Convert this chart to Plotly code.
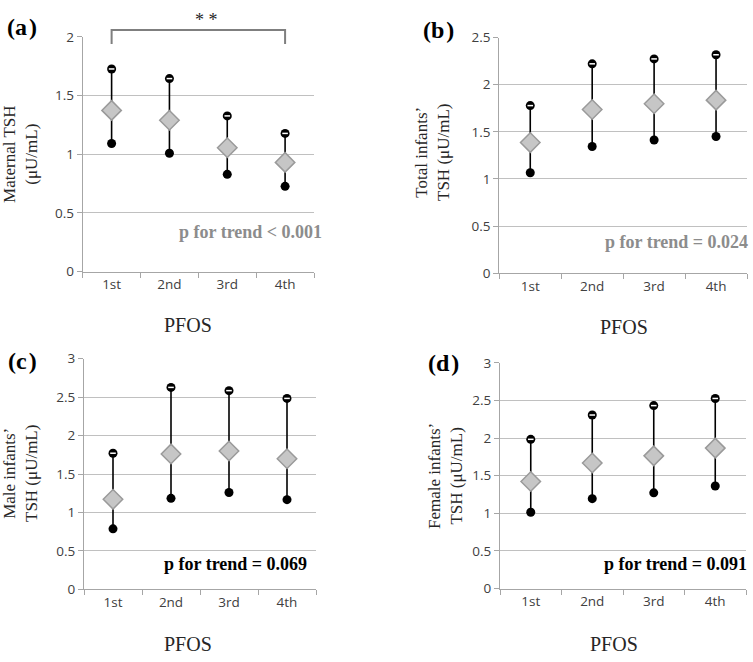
import plotly.graph_objects as go

W, H = 753, 662

categories = ["1st", "2nd", "3rd", "4th"]

# Panel (a): Maternal TSH
a_mean = [1.374, 1.290, 1.056, 0.931]
a_upper = [1.727, 1.645, 1.327, 1.178]
a_lower = [1.092, 1.009, 0.829, 0.727]

# Panel (b): Total infants' TSH
b_mean = [1.386, 1.737, 1.798, 1.836]
b_upper = [1.778, 2.221, 2.273, 2.317]
b_lower = [1.066, 1.345, 1.413, 1.451]

# Panel (c): Male infants' TSH
c_mean = [1.171, 1.761, 1.799, 1.698]
c_upper = [1.770, 2.625, 2.583, 2.482]
c_lower = [0.788, 1.184, 1.260, 1.167]

# Panel (d): Female infants' TSH
d_mean = [1.422, 1.668, 1.763, 1.866]
d_upper = [1.983, 2.306, 2.431, 2.526]
d_lower = [1.013, 1.194, 1.272, 1.362]

panel_labels = ["(a\u200a)", "(b\u200a)", "(c\u200a)", "(d\u200a)"]
y_titles = ["Maternal TSH<br>(μU/mL)", "Total infants’<br>TSH (μU/mL)",
            "Male infants’<br>TSH (μU/mL)", "Female infants’<br>TSH (μU/mL)"]
y_max = [2, 2.5, 3, 3]
trend_texts = ["p for trend < 0.001", "p for trend = 0.024",
               "p for trend = 0.069", "p for trend = 0.091"]
trend_colors = ["#8c8c8c", "#8c8c8c", "#000000", "#000000"]
x_title = "PFOS"
signif_text = "* *"

means = [a_mean, b_mean, c_mean, d_mean]
uppers = [a_upper, b_upper, c_upper, d_upper]
lowers = [a_lower, b_lower, c_lower, d_lower]

# layout (pixel boxes: left, right, top, bottom)
boxes = [(82.7, 314, 28.7, 270), (499.3, 747, 29.3, 271.7),
         (84, 316, 359.3, 596.7), (500, 746, 363.7, 595.7)]
label_pos = [(22, 18), (438, 22), (22, 362), (443, 364)]
ytitle_pos = [(21, 150), (433, 148), (20, 478), (446, 480)]
xtitle_pos = [(188, 325), (624, 327), (188, 653), (614, 653)]
trend_pos = [(324, 229), (750, 239), (309, 570), (749, 571)]

SERIF = "Liberation Serif, Times New Roman, serif"
SANS = "Open Sans, Arial, sans-serif"
GRID = "#c0c0c0"
AXIS = "#a6a6a6"

def px(x):
    return x / W

def py(y):
    return 1 - y / H

fig = go.Figure()
annotations = []
shapes = []

for i in range(4):
    n = "" if i == 0 else str(i + 1)
    xa, ya = "x" + n, "y" + n
    l, r, t, b = boxes[i]
    # connecting lines lower -> upper
    lx, ly = [], []
    for c, lo, up in zip(categories, lowers[i], uppers[i]):
        lx += [c, c, None]
        ly += [lo, up, None]
    fig.add_trace(go.Scatter(x=lx, y=ly, mode="lines", xaxis=xa, yaxis=ya,
                             line=dict(color="black", width=1.6),
                             showlegend=False, hoverinfo="skip"))
    fig.add_trace(go.Scatter(x=categories, y=lowers[i], mode="markers", xaxis=xa, yaxis=ya,
                             marker=dict(symbol="circle", size=9, color="black"),
                             showlegend=False, cliponaxis=False))
    fig.add_trace(go.Scatter(x=categories, y=uppers[i], mode="markers", xaxis=xa, yaxis=ya,
                             marker=dict(symbol="circle", size=9, color="black"),
                             showlegend=False, cliponaxis=False))
    fig.add_trace(go.Scatter(x=categories, y=uppers[i], mode="markers", xaxis=xa, yaxis=ya,
                             marker=dict(symbol="line-ew", size=4,
                                         line=dict(color="white", width=1.5)),
                             showlegend=False, cliponaxis=False, hoverinfo="skip"))
    fig.add_trace(go.Scatter(x=categories, y=means[i], mode="markers", xaxis=xa, yaxis=ya,
                             marker=dict(symbol="diamond", size=15, color="#c6c6c6",
                                         line=dict(color="#9a9a9a", width=1.5)),
                             showlegend=False, cliponaxis=False))

    fig.update_layout({
        ("xaxis" + n): dict(domain=[px(l), px(r)], anchor=ya, type="category",
                            categoryorder="array", categoryarray=categories,
                            range=[-0.5, 3.5], tickson="boundaries", ticks="outside",
                            ticklen=5, tickcolor=AXIS, showline=True, linecolor=AXIS,
                            linewidth=1, showgrid=False, zeroline=False,
                            tickfont=dict(family=SANS, size=13.5, color="#404040")),
        ("yaxis" + n): dict(domain=[py(b), py(t)], anchor=xa, range=[0, y_max[i]],
                            dtick=0.5, tick0=0, ticks="outside", ticklen=5, tickcolor=AXIS,
                            showline=True, linecolor=AXIS, linewidth=1,
                            showgrid=True, gridcolor=GRID, gridwidth=1, zeroline=False,
                            tickfont=dict(family=SANS, size=13.5, color="#404040")),
    })

    annotations.append(dict(x=px(label_pos[i][0]), y=py(label_pos[i][1]), xref="paper", yref="paper",
                            xanchor="center", yanchor="middle",
                            text="<b>" + panel_labels[i] + "</b>", showarrow=False,
                            font=dict(family=SERIF, size=24, color="black")))
    annotations.append(dict(x=px(ytitle_pos[i][0]), y=py(ytitle_pos[i][1]), xref="paper", yref="paper",
                            xanchor="center", yanchor="middle",
                            text=y_titles[i], textangle=-90, showarrow=False,
                            font=dict(family=SERIF, size=17, color="#262626")))
    annotations.append(dict(x=px(xtitle_pos[i][0]), y=py(xtitle_pos[i][1]), xref="paper", yref="paper",
                            xanchor="center", yanchor="middle",
                            text=x_title, showarrow=False,
                            font=dict(family=SERIF, size=20, color="#262626")))
    annotations.append(dict(x=px(trend_pos[i][0]), y=py(trend_pos[i][1]), xref="paper", yref="paper",
                            xanchor="right", yanchor="middle",
                            text="<b>" + trend_texts[i] + "</b>", showarrow=False,
                            font=dict(family=SERIF, size=18, color=trend_colors[i])))

# significance bracket on panel (a), from 1st to 4th category
l, r, t, b = boxes[0]
dom_x = (px(l), px(r))
dom_y = (py(b), py(t))

def cat_to_paper(idx):
    return dom_x[0] + (idx + 0.5) / len(categories) * (dom_x[1] - dom_x[0])

def val_to_paper(v):
    return dom_y[0] + v / y_max[0] * (dom_y[1] - dom_y[0])

bx0 = cat_to_paper(0)
bx1 = cat_to_paper(3)
br_top, br_bot = 2.06, 1.94
shapes.append(dict(type="path", xref="paper", yref="paper",
                   path="M %f %f L %f %f L %f %f L %f %f" % (bx0, val_to_paper(br_bot), bx0, val_to_paper(br_top),
                                                          bx1, val_to_paper(br_top), bx1, val_to_paper(br_bot)),
                   line=dict(color="#7f7f7f", width=2)))
annotations.append(dict(x=(bx0 + bx1) / 2 + px(8), y=py(11), xref="paper", yref="paper",
                        xanchor="center", yanchor="middle",
                        text=signif_text, showarrow=False,
                        font=dict(family=SERIF, size=18, color="#262626")))

fig.update_layout(width=W, height=H, margin=dict(l=0, r=0, t=0, b=0),
                  paper_bgcolor="white", plot_bgcolor="white",
                  annotations=annotations, shapes=shapes, showlegend=False)

fig.write_html("out.html", config={"displayModeBar": False},
               post_script="document.body.style.margin='0px';document.body.style.overflow='hidden';")
